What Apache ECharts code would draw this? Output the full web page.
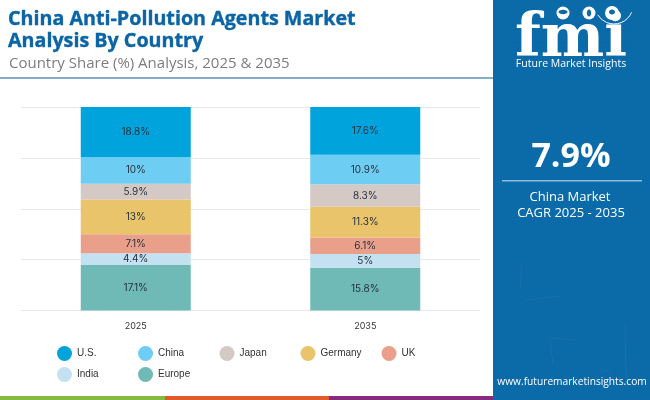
<!DOCTYPE html>
<html><head><meta charset="utf-8">
<style>html,body{margin:0;padding:0;background:#fff}#c{width:650px;height:400px}</style>
<script src="https://cdn.jsdelivr.net/npm/echarts@6/dist/echarts.min.js"></script>
</head><body><div id="c"></div>
<script>
const categories = ['2025', '2035'];
const usValues = [18.8, 17.6];
const chinaValues = [10, 10.9];
const japanValues = [5.9, 8.3];
const germanyValues = [13, 11.3];
const ukValues = [7.1, 6.1];
const indiaValues = [4.4, 5];
const europeValues = [17.1, 15.8];

const stackOrder = [
  ['Europe', europeValues, '#6fbab7'],
  ['India', indiaValues, '#c3e1f1'],
  ['UK', ukValues, '#e99f8a'],
  ['Germany', germanyValues, '#e9c46a'],
  ['Japan', japanValues, '#d5c9c6'],
  ['China', chinaValues, '#6ecdf3'],
  ['U.S.', usValues, '#00a3dc']
];
const legendCells = [
  ['U.S.', 57, 346], ['China', 138, 346], ['Japan', 219.5, 346], ['Germany', 300.5, 346], ['UK', 381.5, 346],
  ['India', 57, 367], ['Europe', 138, 367]
];
const totals = categories.map((_, i) => stackOrder.reduce((s, d) => s + d[1][i], 0));

const series = stackOrder.map(([name, vals, color]) => ({
  name, type: 'bar', stack: 'share', barWidth: 110,
  itemStyle: { color },
  data: vals.map((v, i) => ({ value: v / totals[i] * 100, raw: v })),
  label: {
    show: true, position: 'inside', color: '#26323c',
    fontFamily: 'Inter', fontSize: 10,
    formatter: p => p.data.raw + '%'
  }
}));

const panel = '#0b6aa8';
const stripes = [];
for (let y = 17; y < 55; y += 4.2) {
  stripes.push({ type: 'rect', z: 12, shape: { x: 512, y, width: 118, height: 1.1 }, style: { fill: panel } });
}
const txt = (x, y, text, font, fill, align) => ({
  type: 'text', z: 13, x, y,
  style: { text, font, fill, textAlign: align || 'center', textVerticalAlign: 'middle' }
});
const globe = (cx, cy, r) => ({ type: 'circle', z: 13, shape: { cx, cy, r }, style: { fill: '#ffffff' } });
const fleck = (cx, cy, rx, ry) => ({ type: 'ellipse', z: 14, shape: { cx, cy, rx, ry }, style: { fill: panel } });
const streak = (x1, y1, x2, y2) => ({
  type: 'line', z: 11, shape: { x1, y1, x2, y2 },
  style: { stroke: '#ffffff', opacity: 0.05, lineWidth: 1 }
});

const graphic = [
  { type: 'rect', z: 1, shape: { x: 0, y: 77, width: 493, height: 2 }, style: { fill: '#7fb0c8' } },
  { type: 'rect', z: 10, shape: { x: 493, y: 0, width: 157, height: 400 }, style: { fill: panel } },
  { type: 'rect', z: 10, shape: { x: 0, y: 396, width: 165, height: 4 }, style: { fill: '#86bb3f' } },
  { type: 'rect', z: 10, shape: { x: 165, y: 396, width: 164, height: 4 }, style: { fill: '#e05a2b' } },
  { type: 'rect', z: 10, shape: { x: 329, y: 396, width: 164, height: 4 }, style: { fill: '#862b80' } },
  streak(522, 265, 520, 290), streak(625, 325, 626, 378), streak(550, 340, 553, 365),
  streak(548, 338, 575, 340), streak(601, 372, 610, 370), streak(526, 300, 560, 296),
  txt(571, 40, 'fmi', 'bold 60px "DejaVu Serif"', '#ffffff'),
  ...stripes,
  { type: 'rect', z: 12, shape: { x: 556, y: 0, width: 66, height: 16 }, style: { fill: panel } },
  globe(563, 13, 6.5), globe(589, 13, 6.5), globe(612, 13, 7),
  fleck(563, 12, 4.5, 2.2), fleck(589, 13, 2.2, 3.5), fleck(612, 12, 3, 2.4),
  { type: 'arc', z: 13, shape: { cx: 614, cy: 5, r: 19, startAngle: 0.4, endAngle: 2.6, clockwise: true }, style: { stroke: '#ffffff', lineWidth: 1, fill: null } },
  txt(571, 64, 'Future Market Insights', '10.5px "Open Sans"', '#ffffff'),
  txt(571, 157.5, '7.9%', 'bold 34px "Open Sans"', '#ffffff'),
  { type: 'rect', z: 13, shape: { x: 502, y: 180, width: 140, height: 1.5 }, style: { fill: '#8fbbdc' } },
  txt(570, 197, 'China Market', '13px "Open Sans"', '#ffffff'),
  txt(571, 213, 'CAGR 2025 - 2035', '13px "Open Sans"', '#ffffff'),
  txt(572, 382.5, 'www.futuremarketinsights.com', '10.2px "Open Sans"', '#ffffff')
];

const chart = echarts.init(document.getElementById('c'), null, { renderer: 'canvas' });
chart.setOption({
  animation: false,
  backgroundColor: '#ffffff',
  title: [
    { text: 'China Anti-Pollution Agents Market\nAnalysis By Country', left: 8, top: 9, padding: 0,
      textStyle: { fontFamily: 'Open Sans', fontWeight: 'bold', fontSize: 19.7, lineHeight: 21.5,
        color: '#0b65a5', textBorderColor: '#0b65a5', textBorderWidth: 0.4 } },
    { text: 'Country Share (%) Analysis, 2025 & 2035', left: 9, top: 56, padding: 0,
      textStyle: { fontFamily: 'Open Sans', fontWeight: 'normal', fontSize: 15, color: '#7d7d7d' } }
  ],
  legend: legendCells.map(([name, left, top]) => ({
    data: [name], left, top, itemWidth: 15, itemHeight: 15, icon: 'circle', itemGap: 0, padding: 0,
    selectedMode: false,
    textStyle: { fontFamily: 'Liberation Sans', fontSize: 10, color: '#333' }
  })),
  grid: { left: 21, right: 170, top: 107, bottom: 89.5, containLabel: false },
  xAxis: {
    type: 'category', data: categories,
    axisLine: { show: false }, axisTick: { show: false },
    axisLabel: { color: '#333', fontFamily: 'Inter', fontSize: 9, margin: 11 }
  },
  yAxis: {
    type: 'value', min: 0, max: 100, interval: 25,
    axisLabel: { show: false }, axisLine: { show: false }, axisTick: { show: false },
    splitLine: { lineStyle: { color: '#e8e8e8', width: 1 } }
  },
  series,
  graphic: { elements: graphic }
});
</script></body></html>
